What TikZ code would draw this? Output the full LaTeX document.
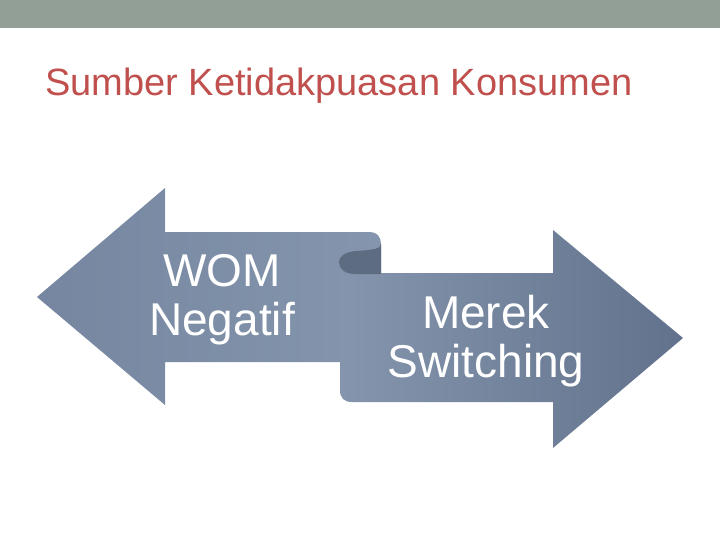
\documentclass[tikz,border=0pt]{standalone}
\usepackage{fontspec}
\setmainfont{Liberation Sans}
\definecolor{barcol}{HTML}{929F97}
\definecolor{titlecol}{HTML}{C0504D}
\definecolor{arrowA}{HTML}{7686A0}
\definecolor{arrowB}{HTML}{8495AD}
\definecolor{arrowC}{HTML}{62728C}
\definecolor{curlcol}{HTML}{5E6C82}
\tikzset{
  label text/.style={text=white, font=\fontsize{46}{49}\selectfont, align=center, inner sep=0pt},
}
\begin{document}
\begin{tikzpicture}[x=1pt,y=-1pt]
\useasboundingbox (0,0) rectangle (720,540);
\fill[barcol] (0,0) rectangle (720,28);
\node[anchor=base west, text=titlecol, font=\fontsize{38}{40}\selectfont, inner sep=0pt] (title) at (45,96) {Sumber Ketidakpuasan Konsumen};
% right arrow
\shade[left color=arrowB, right color=arrowC]
  (340,262) -- (340,390) .. controls (340,398) and (344,402) .. (352,402)
  -- (553,402) -- (553,448) -- (683,338) -- (553,230) -- (553,273) -- (345,273) -- cycle;
% left arrow
\shade[left color=arrowA, right color=arrowB]
  (37,297) -- (165,188) -- (165,232) -- (370,232)
  .. controls (377,232) and (381,237) .. (381,244)
  -- (381,274) -- (340,274) -- (340,362) -- (165,362) -- (165,405) -- cycle;
% curl
\fill[curlcol] (381,244) .. controls (381,249) and (372,250) .. (356,251)
  .. controls (345,252) and (339,256) .. (339,262)
  .. controls (339,269) and (345,274) .. (355,274) -- (381,274) -- cycle;
\node[label text] (wom) at (222,300) {WOM\\Negatif};
\node[label text] (merek) at (486,341) {Merek\\Switching};
\end{tikzpicture}
\end{document}
